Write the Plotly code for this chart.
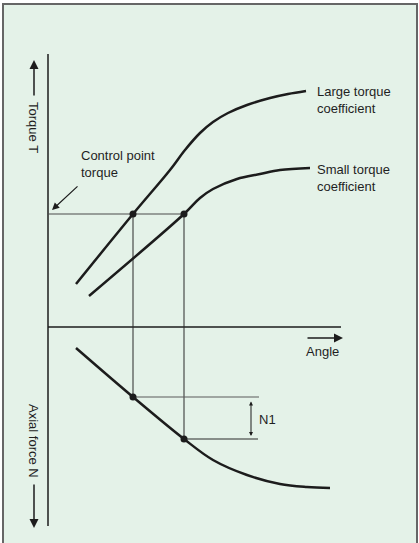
import plotly.graph_objects as go

# ---- data (angle units along the horizontal axis, torque up / axial force down) ----
angle_large = [28, 85, 122, 137, 152, 165, 180, 199, 222, 240, 258]
torque_large = [43, 113, 157, 177, 194, 205, 214, 222, 229, 233, 236]

angle_small = [41, 136, 152, 165, 189, 212, 232, 262]
torque_small = [31, 113, 129, 138, 148, 153, 157, 159]

angle_axial = [28, 85, 136, 165, 199, 232, 259, 282]
axial_force = [-21, -70, -112, -133, -148, -157, -160, -161]

control_torque = 113
control_angles = [85, 136]
control_axial = [-70, -112]

label_large = "Large torque<br>coefficient"
label_small = "Small torque<br>coefficient"

FONT = "Liberation Sans, Arial, sans-serif"
INK = "#1c1c1c"
TXT = "#1f1f1f"

fig = go.Figure()

# axes of the schematic
fig.add_trace(go.Scatter(x=[0, 0], y=[273, -199], mode="lines",
                         line=dict(color=INK, width=1.5), hoverinfo="skip"))
fig.add_trace(go.Scatter(x=[0, 293], y=[0, 0], mode="lines",
                         line=dict(color=INK, width=1.5), hoverinfo="skip"))

# guide lines
fig.add_trace(go.Scatter(x=[0, control_angles[1]], y=[control_torque, control_torque],
                         mode="lines", line=dict(color="#4a4a4a", width=1), hoverinfo="skip"))
for a, n in zip(control_angles, control_axial):
    fig.add_trace(go.Scatter(x=[a, a], y=[control_torque, n], mode="lines",
                             line=dict(color="#2a2a2a", width=1), hoverinfo="skip"))
fig.add_trace(go.Scatter(x=[control_angles[0], 211], y=[control_axial[0], control_axial[0]],
                         mode="lines", line=dict(color="#5a5a5a", width=1), hoverinfo="skip"))
fig.add_trace(go.Scatter(x=[control_angles[1], 210], y=[control_axial[1], control_axial[1]],
                         mode="lines", line=dict(color="#2a2a2a", width=1), hoverinfo="skip"))

# curves
for xs, ys in [(angle_large, torque_large), (angle_small, torque_small), (angle_axial, axial_force)]:
    fig.add_trace(go.Scatter(x=xs, y=ys, mode="lines",
                             line=dict(color=INK, width=2.5, shape="spline", smoothing=1.0),
                             hoverinfo="skip"))

# control points
fig.add_trace(go.Scatter(x=control_angles, y=[control_torque, control_torque], mode="markers",
                         marker=dict(color=INK, size=7), hoverinfo="skip"))
fig.add_trace(go.Scatter(x=control_angles, y=control_axial, mode="markers",
                         marker=dict(color=INK, size=7), hoverinfo="skip"))

ann = []
def text(x, y, t, **kw):
    d = dict(x=x, y=y, xref="x", yref="y", text=t, showarrow=False,
             font=dict(family=FONT, size=13, color=TXT), align="left")
    d.update(kw)
    ann.append(d)

def arrow(x0, y0, x1, y1, **kw):
    d = dict(x=x1, y=y1, ax=x0, ay=y0, xref="x", yref="y", axref="x", ayref="y",
             text="", showarrow=True, arrowhead=2, arrowsize=1.2, arrowwidth=1.5,
             arrowcolor=INK)
    d.update(kw)
    ann.append(d)

text(31, 163, "Control point<br>torque", xanchor="left", yanchor="middle")
text(267, 227, label_large, xanchor="left", yanchor="middle")
text(267, 149, label_small, xanchor="left", yanchor="middle")
text(274.5, -24, "Angle", xanchor="center", yanchor="middle")
text(209, -92, "N1", xanchor="left", yanchor="middle")
text(-14, 200, "Torque T", textangle=90, xanchor="center", yanchor="middle")
text(-14, -114, "Axial force N", textangle=90, xanchor="center", yanchor="middle")

arrow(-14, 230, -14, 267)
arrow(-14, -156, -14, -201)
arrow(258, -11, 295, -11)
arrow(31, 142, 4, 117, arrowwidth=1.2)
arrow(203, -73, 203, -109, arrowside="end+start", arrowsize=0.8, arrowwidth=1, arrowhead=2)

fig.update_layout(
    width=419, height=543,
    margin=dict(l=0, r=0, t=0, b=0),
    paper_bgcolor="white", plot_bgcolor="white",
    showlegend=False,
    annotations=ann,
    xaxis=dict(range=[-48, 371], visible=False, fixedrange=True),
    yaxis=dict(range=[-216, 327], visible=False, fixedrange=True),
    shapes=[dict(type="rect", xref="paper", yref="paper",
                 x0=3 / 419, x1=417 / 419, y0=-0.02, y1=1 - 4 / 543,
                 fillcolor="#E4F2E8", line=dict(color="#666666", width=2), layer="below")],
)

fig.write_html("out.html", config={"displayModeBar": False},
               post_script="document.body.style.margin='0';document.body.style.overflow='hidden';")
